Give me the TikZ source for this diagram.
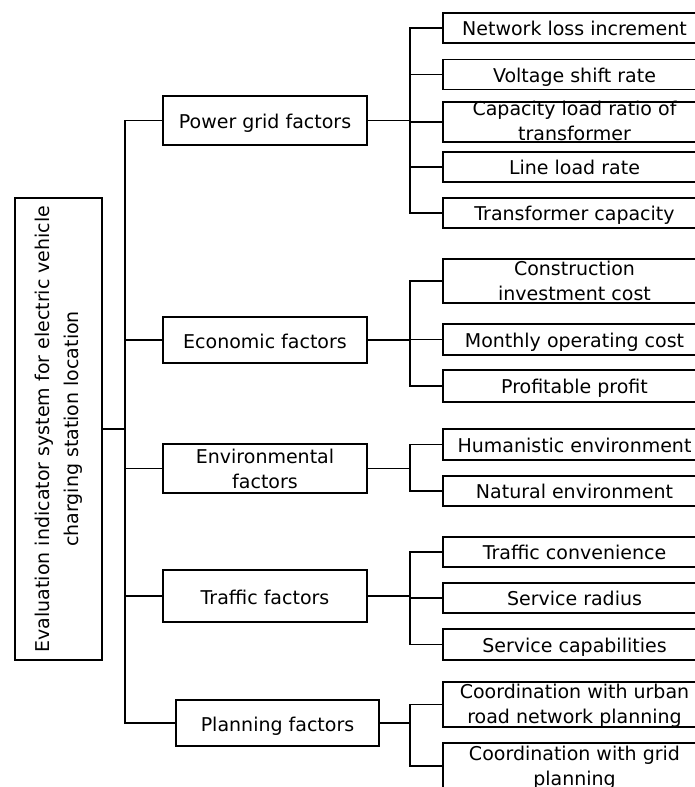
\documentclass[tikz,border=0pt]{standalone}
\usepackage{fontspec}
\setmainfont{DejaVu Sans}
\usepackage{tikz}
\usetikzlibrary{positioning}

\begin{document}
\begin{tikzpicture}[x=1pt, y=-1pt, line width=1.2pt,
    root/.style={draw, rotate=90, minimum width=462pt, minimum height=87pt, inner sep=0pt, align=center},
    factor/.style={draw, minimum width=204pt, minimum height=48pt, inner sep=0pt, align=center, text height=16pt, text depth=0pt},
    item/.style={draw, minimum width=263pt, minimum height=30pt, inner sep=0pt, align=center, text height=15pt, text depth=0pt},
    spill/.style={text height=#1, text depth=0pt}]
    \useasboundingbox (0,0) rectangle (694,787);
    \fontsize{19}{25}\selectfont

    % Root of the indicator system
    \node[root] (eval) at (58.5,429) {Evaluation indicator system for electric vehicle\\[4pt]charging station location};

    % First level: factors
    \node[factor, minimum height=49pt] (grid) at (265,120.5) {Power grid factors};
    \node[factor, minimum height=46pt] (econ) at (265,340) {Economic factors};
    \node[factor, minimum height=49pt, spill=39pt] (env) at (265,468.5) {Environmental\\factors};
    \node[factor, minimum height=52pt] (traffic) at (265,596) {Traffic factors};
    \node[factor, minimum width=203pt, minimum height=46pt] (plan) at (277.5,723) {Planning factors};

    % Second level: indicators
    \node[item] (netloss) at (574.5,28) {Network loss increment};
    \node[item] (voltage) at (574.5,74.5) {Voltage shift rate};
    \node[item, spill=36pt, minimum height=40pt] (ratio) at (574.5,122) {Capacity load ratio of\\transformer};
    \node[item] (lineload) at (574.5,167) {Line load rate};
    \node[item] (transcap) at (574.5,213) {Transformer capacity};

    \node[item, spill=39pt, minimum height=44pt] (invest) at (574.5,281) {Construction\\investment cost};
    \node[item, minimum height=31pt] (monthly) at (574.5,339.5) {Monthly operating cost};
    \node[item, minimum height=32pt] (profit) at (574.5,386) {Profitable profit};

    \node[item, minimum height=31pt] (human) at (574.5,444.5) {Humanistic environment};
    \node[item] (nature) at (574.5,491) {Natural environment};

    \node[item] (conv) at (574.5,552) {Traffic convenience};
    \node[item] (radius) at (574.5,598) {Service radius};
    \node[item, minimum height=31pt] (capab) at (574.5,644.5) {Service capabilities};

    \node[item, spill=37pt, minimum height=45pt] (urban) at (574.5,704.5) {Coordination with urban\\road network planning};
    \node[item, spill=38pt, minimum height=46pt] (gridplan) at (574.5,766) {Coordination with grid\\planning};

    % Buses
    \coordinate (bus1) at (125,0);
    \coordinate (bus2) at (410,0);

    % Connectors root -> factors
    \foreach \f in {grid,econ,env,traffic,plan}
        \draw (eval.south) -- (eval.south -| bus1) |- (\f.west);

    % Connectors factors -> indicators
    \foreach \f/\list in {grid/{netloss,voltage,ratio,lineload,transcap},
                          econ/{invest,monthly,profit},
                          env/{human,nature},
                          traffic/{conv,radius,capab},
                          plan/{urban,gridplan}}
        \foreach \i in \list
            \draw (\f.east) -- (\f.east -| bus2) |- (\i.west);

\end{tikzpicture}
\end{document}
